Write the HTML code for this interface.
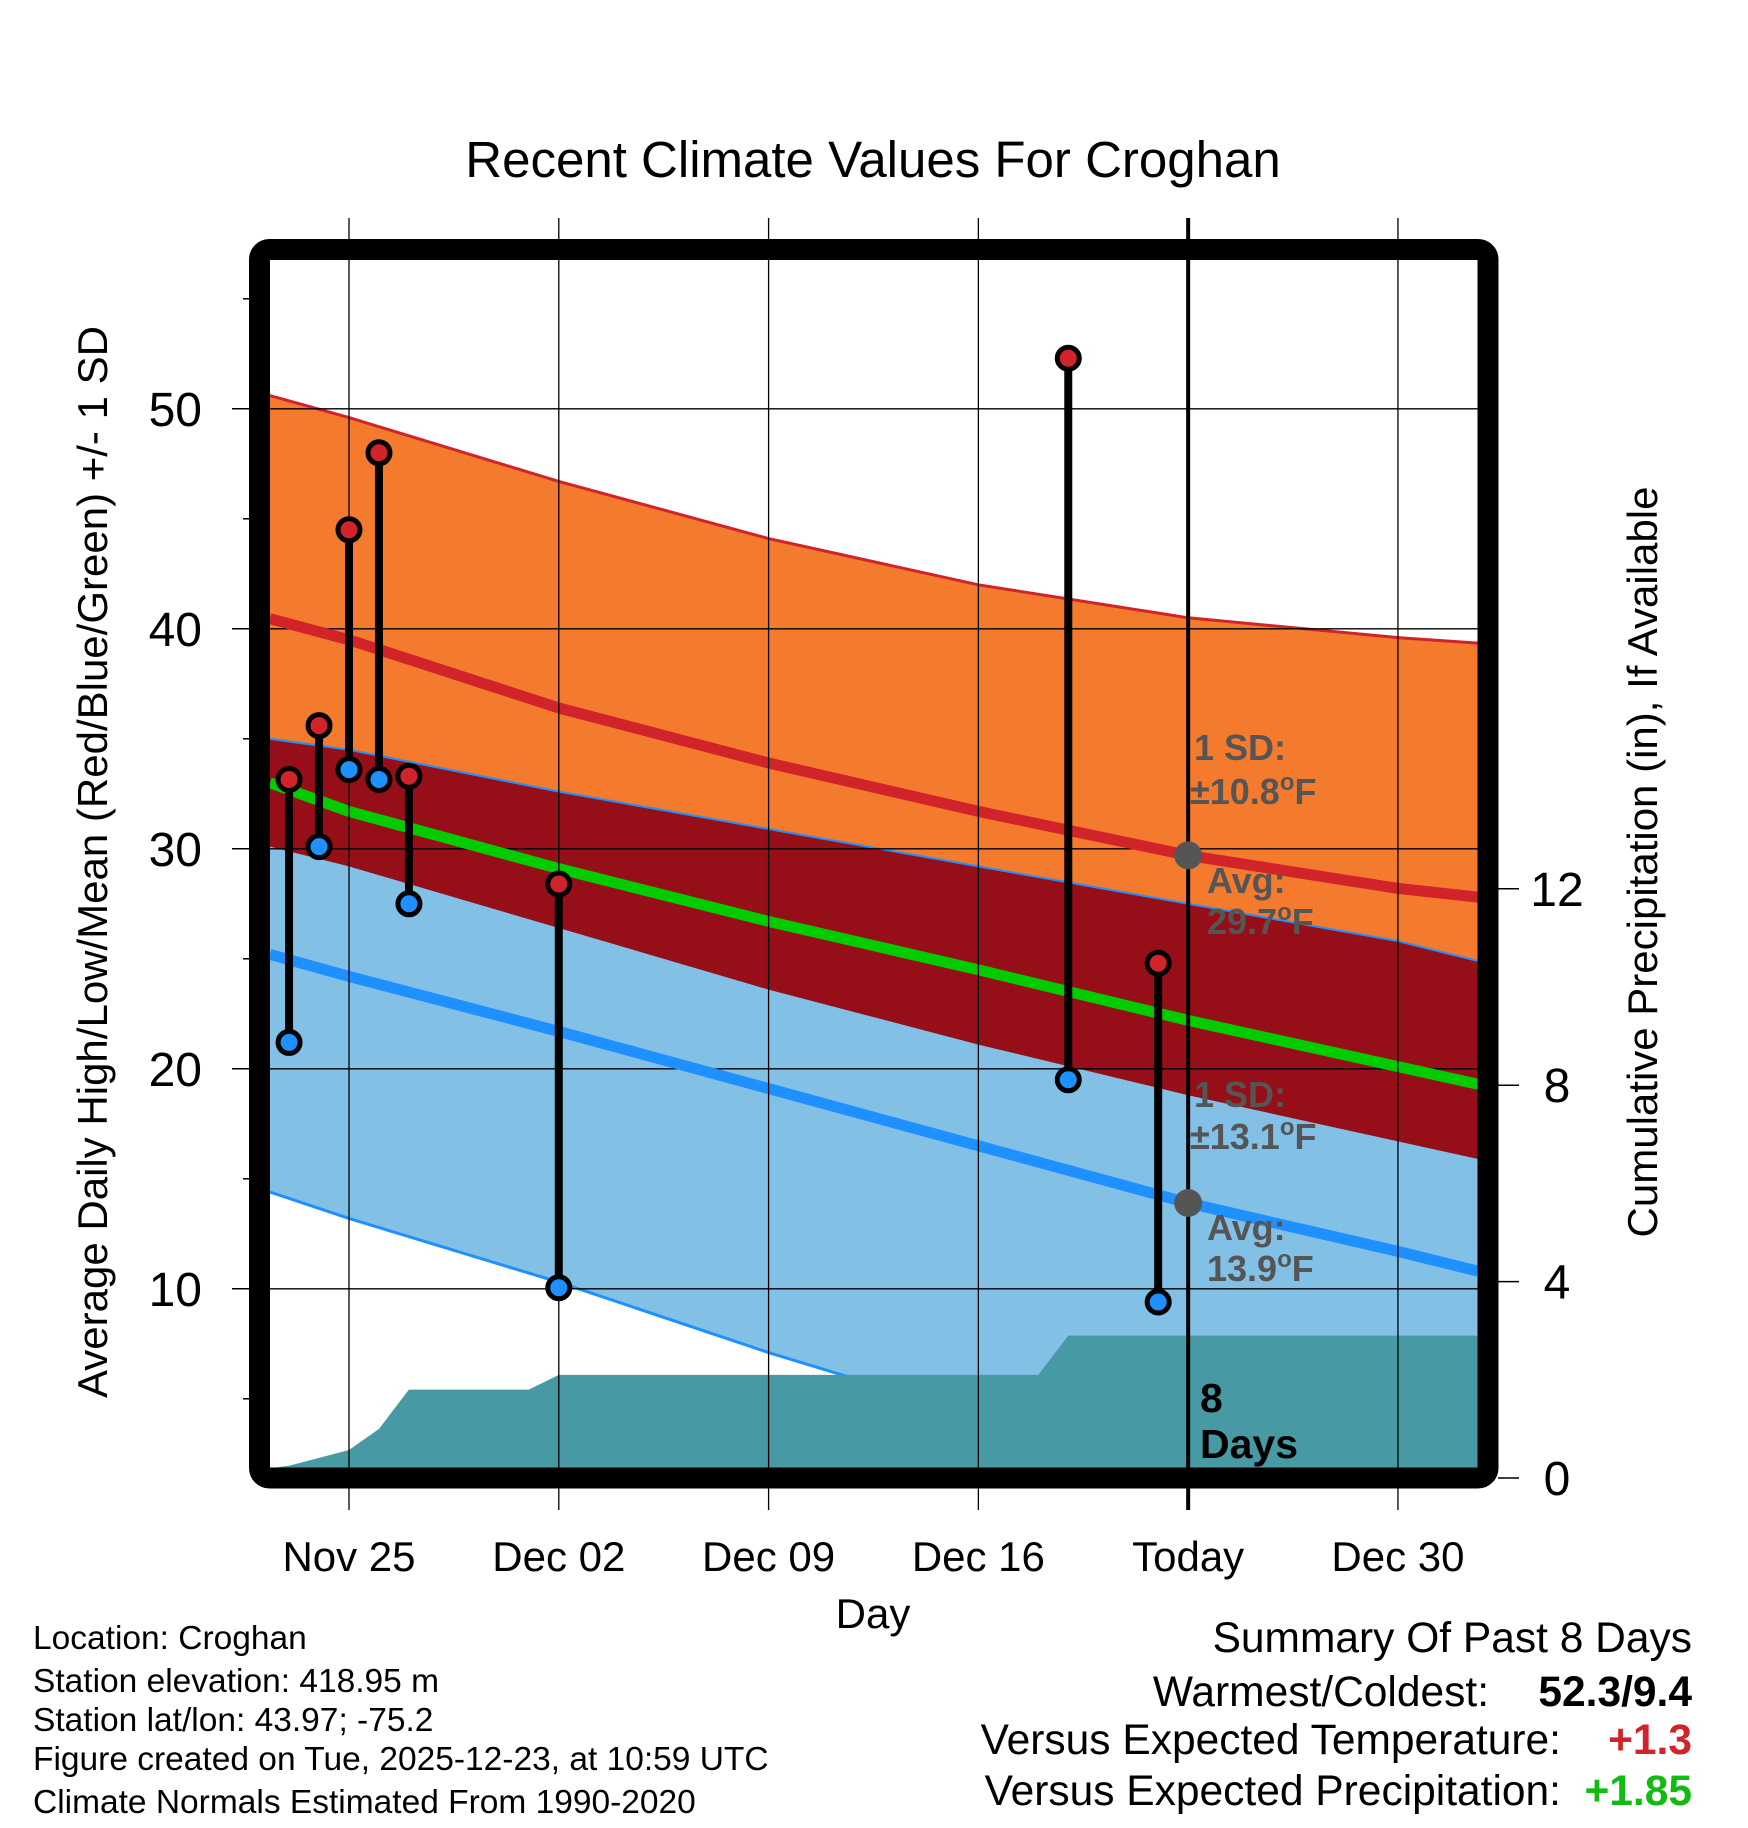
<!DOCTYPE html>
<html><head><meta charset="utf-8"><style>
html,body{margin:0;padding:0;background:#fff}
svg{display:block}
text{font-family:"Liberation Sans",sans-serif}
</style></head><body>
<svg id="chart" width="1748" height="1828" xmlns="http://www.w3.org/2000/svg">
<defs><clipPath id="plotclip"><rect x="270" y="260" width="1208" height="1208"/></clipPath></defs>
<g id="plot" clip-path="url(#plotclip)"></g>
<g id="over"></g>
</svg>
<script>
// day offsets relative to Nov 25
const normDays = [-2.64, 0, 7, 14, 21, 28, 35, 37.67];
const topHigh  = [50.6, 49.6, 46.7, 44.1, 42.0, 40.5, 39.6, 39.35];
const highMean = [40.46, 39.5, 36.4, 33.9, 31.7, 29.7, 28.2, 27.8];
const lowUpper = [35.0, 34.5, 32.6, 30.9, 29.2, 27.5, 25.8, 24.9];
const meanAvg  = [33.0, 31.7, 29.1, 26.7, 24.5, 22.2, 20.1, 19.3];
const highLower= [30.1, 29.2, 26.4, 23.6, 21.1, 18.8, 16.7, 15.9];
const lowMean  = [25.2, 24.2, 21.7, 19.1, 16.5, 13.9, 11.7, 10.8];
const lowLower = [14.4, 13.2, 10.3, 7.1, 4.2, 1.7, -0.3, -1.0];
const obsDays  = [-2, -1, 0, 1, 2, 7, 24, 27];
const obsHigh  = [33.15, 35.6, 44.5, 48.0, 33.3, 28.4, 52.3, 24.8];
const obsLow   = [21.2, 30.1, 33.6, 33.15, 27.5, 10.05, 19.5, 9.4];
const precipDays = [-2.64, -2, 0, 1, 2, 6, 7, 23, 24, 37.67];
const precipVals = [0.2, 0.25, 0.57, 1.0, 1.8, 1.8, 2.1, 2.1, 2.9, 2.9];
const xTickDays = [0, 7, 14, 21, 28, 35];
const xTickLabels = ["Nov 25","Dec 02","Dec 09","Dec 16","Today","Dec 30"];
const yTicks = [10, 20, 30, 40, 50];
const yMinor = [5, 15, 25, 35, 45, 55];
const pTicks = [0, 4, 8, 12];
const todayDay = 28;

const NS="http://www.w3.org/2000/svg";
const X = d => 349 + d*29.97;
const Y = v => 1288.8 - (v-10)*22.0;
const YP = p => 1478 - p*49.1;
const plot=document.getElementById('plot'), over=document.getElementById('over');
function mk(parent, tag, attrs, txt){const e=document.createElementNS(NS,tag);for(const k in attrs)e.setAttribute(k,attrs[k]);if(txt!==undefined)e.textContent=txt;parent.appendChild(e);return e;}
function line(days, vals){return days.map((d,i)=>X(d).toFixed(1)+','+Y(vals[i]).toFixed(1));}
function band(days, up, lo){return line(days,up).concat(line(days,lo).reverse()).join(' ');}

let e;
e=mk(plot,'polygon',{points:band(normDays,topHigh,highLower),fill:'#F47A2E'});


e=mk(plot,'polygon',{points:band(normDays,lowUpper,lowLower),fill:'#82C0E6'});


e=mk(plot,'polygon',{points:band(normDays,lowUpper,highLower),fill:'#960E17'});


e=mk(plot,'polyline',{points:line(normDays,topHigh).join(' '),fill:'none',stroke:'#D0242A','stroke-width':3});


e=mk(plot,'polyline',{points:line(normDays,lowUpper).join(' '),fill:'none',stroke:'#1E90FF','stroke-width':2});


e=mk(plot,'polyline',{points:line(normDays,lowLower).join(' '),fill:'none',stroke:'#1E90FF','stroke-width':3});


// precip
const pp=precipDays.map((d,i)=>X(d).toFixed(1)+','+YP(precipVals[i]).toFixed(1));
pp.push(X(precipDays[precipDays.length-1])+','+1480);pp.push(X(precipDays[0])+','+1480);
e=mk(plot,'polygon',{points:pp.join(' '),fill:'#4799A3'});


// grid
yTicks.forEach(v=>{e=mk(plot,'line',{x1:270,x2:1478,y1:Y(v),y2:Y(v),stroke:'#000','stroke-width':1.3});

});
e=mk(plot,'polyline',{points:line(normDays,highMean).join(' '),fill:'none',stroke:'#D0242A','stroke-width':11,'stroke-linejoin':'round'});


e=mk(plot,'polyline',{points:line(normDays,meanAvg).join(' '),fill:'none',stroke:'#00CC00','stroke-width':11,'stroke-linejoin':'round'});


e=mk(plot,'polyline',{points:line(normDays,lowMean).join(' '),fill:'none',stroke:'#1E90FF','stroke-width':11,'stroke-linejoin':'round'});


xTickDays.forEach((d,i)=>{
 e=mk(over,'line',{x1:X(d),x2:X(d),y1:218,y2:1510,stroke:'#000','stroke-width':d===todayDay?4:1.3});
 
 
 e=mk(over,'text',{x:X(d),y:1571,'font-size':42,'text-anchor':'middle'},xTickLabels[i]);
 
 
});
// labels near today
const g='#555';
function deg(parent,x,y,num,name){
 const t=mk(parent,'text',{x:x,y:y,'font-size':36,'font-weight':'bold',fill:g});
 
 
 mk(t,'tspan',{},num);
 mk(t,'tspan',{dy:-14,'font-size':24},'o');
 mk(t,'tspan',{dy:14},'F');
}
[["1 SD:",1194,760],["1 SD:",1194,1107],["Avg:",1207,893],["Avg:",1207,1240]].forEach(t=>{
 e=mk(over,'text',{x:t[1],y:t[2],'font-size':36,'font-weight':'bold',fill:g},t[0]);
 
 });
deg(over,1190,804,'±10.8','high-sd-value');
deg(over,1190,1149,'±13.1','low-sd-value');
deg(over,1207,934,'29.7','high-avg-value');
deg(over,1207,1281,'13.9','low-avg-value');
[highMean[5],lowMean[5]].forEach(v=>{e=mk(over,'circle',{cx:X(todayDay),cy:Y(v),r:14,fill:'#555'});
 
 });
e=mk(over,'text',{x:1200,y:1412,'font-size':41,'font-weight':'bold'},"8");


e=mk(over,'text',{x:1200,y:1458,'font-size':41,'font-weight':'bold'},"Days");


// observations
obsDays.forEach((d,i)=>{
 e=mk(over,'line',{x1:X(d),x2:X(d),y1:Y(obsHigh[i]),y2:Y(obsLow[i]),stroke:'#000','stroke-width':8});
 
 
 e=mk(over,'circle',{cx:X(d),cy:Y(obsHigh[i]),r:11,fill:'#D0242A',stroke:'#000','stroke-width':5});
 
 
 e=mk(over,'circle',{cx:X(d),cy:Y(obsLow[i]),r:11,fill:'#1E90FF',stroke:'#000','stroke-width':5});
 
 
});
// frame
e=mk(over,'rect',{x:259.5,y:249.5,width:1228.5,height:1228.5,rx:10,fill:'none',stroke:'#000','stroke-width':21});


yTicks.forEach(v=>{
 e=mk(over,'line',{x1:232,x2:250,y1:Y(v),y2:Y(v),stroke:'#000','stroke-width':1.5});
 
 
 e=mk(over,'text',{x:202,y:Y(v)+17,'font-size':48,'text-anchor':'end'},String(v));
 
 
});
yMinor.forEach(v=>{e=mk(over,'line',{x1:243,x2:250,y1:Y(v),y2:Y(v),stroke:'#000','stroke-width':1.5});
 
 });
pTicks.forEach(p=>{
 e=mk(over,'line',{x1:1498,x2:1519,y1:YP(p),y2:YP(p),stroke:'#000','stroke-width':1.5});
 
 
 e=mk(over,'text',{x:1557,y:YP(p)+17,'font-size':48,'text-anchor':'middle'},String(p));
 
 
});
</script>
<div style="position:absolute;left:0;top:0;width:1748px;height:1828px;pointer-events:none">
<svg width="1748" height="1828" xmlns="http://www.w3.org/2000/svg" style="position:absolute;left:0;top:0">
<text x="873" y="177" font-size="51" text-anchor="middle">Recent Climate Values For Croghan</text>
<text transform="translate(107,862) rotate(-90)" font-size="42" text-anchor="middle">Average Daily High/Low/Mean (Red/Blue/Green) +/- 1 SD</text>
<text transform="translate(1657,862) rotate(-90)" font-size="42" text-anchor="middle">Cumulative Precipitation (in), If Available</text>
<text x="873" y="1628" font-size="42" text-anchor="middle">Day</text>
<g font-size="33.5">
<text x="33" y="1649">Location: Croghan</text>
<text x="33" y="1692">Station elevation: 418.95 m</text>
<text x="33" y="1731">Station lat/lon: 43.97; -75.2</text>
<text x="33" y="1770">Figure created on Tue, 2025-12-23, at 10:59 UTC</text>
<text x="33" y="1813">Climate Normals Estimated From 1990-2020</text>
</g>
<g font-size="42.5">
<text x="1692" y="1652" text-anchor="end">Summary Of Past 8 Days</text>
<text x="1489" y="1706" text-anchor="end">Warmest/Coldest:</text>
<text x="1692" y="1706" text-anchor="end" font-weight="bold">52.3/9.4</text>
<text x="1561" y="1754" text-anchor="end">Versus Expected Temperature:</text>
<text x="1692" y="1754" text-anchor="end" font-weight="bold" fill="#D0242A">+1.3</text>
<text x="1561" y="1805" text-anchor="end">Versus Expected Precipitation:</text>
<text x="1692" y="1805" text-anchor="end" font-weight="bold" fill="#11BB11">+1.85</text>
</g>
</svg></div>
</body></html>
